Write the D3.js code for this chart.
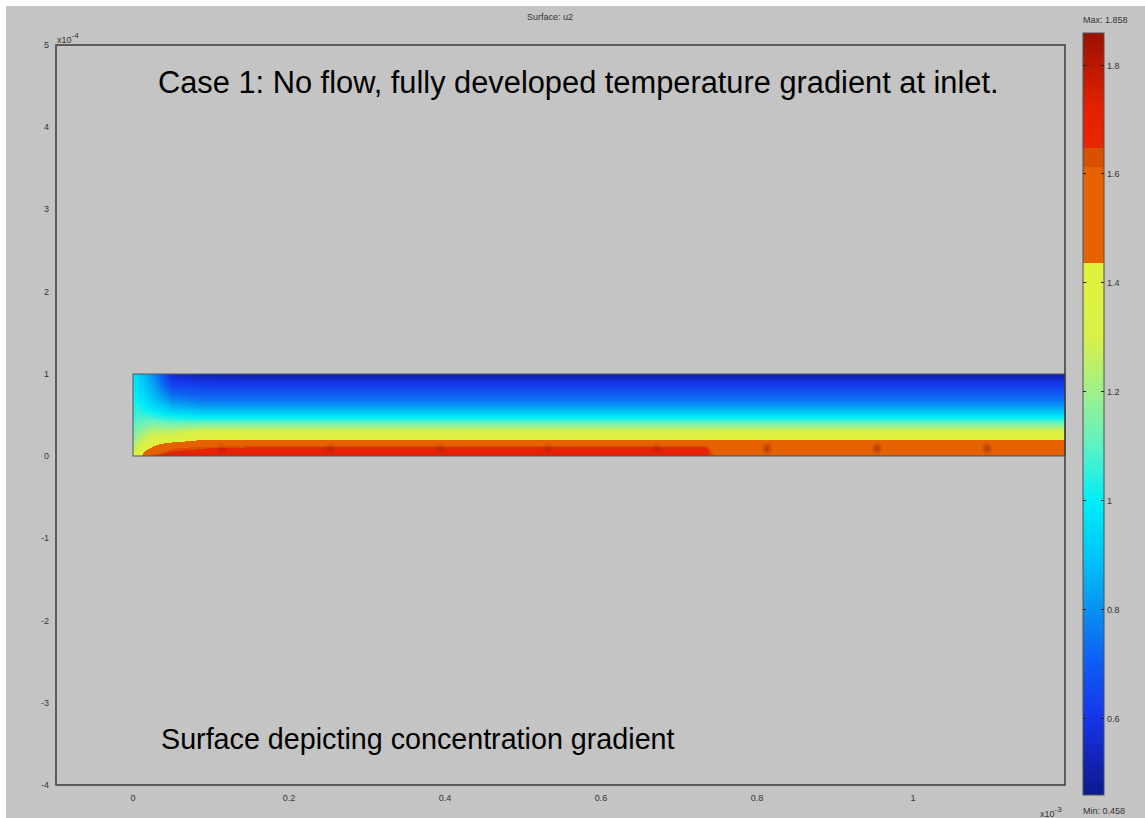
<!DOCTYPE html>
<html>
<head>
<meta charset="utf-8">
<script src="https://cdn.jsdelivr.net/npm/d3@7"></script>
<style>
  html, body { margin: 0; padding: 0; background: #fff; }
  svg { display: block; }
  .small { font-family: "Liberation Sans", Arial, sans-serif; font-size: 9px; fill: #333; }
  .big { font-family: "Liberation Sans", Arial, sans-serif; fill: #000; }
</style>
</head>
<body>
<svg id="mysvg" width="1145" height="818"></svg>
<script>
// axis ticks
const xTicks = [0, 0.2, 0.4, 0.6, 0.8, 1];
const yTicks = [5, 4, 3, 2, 1, 0, -1, -2, -3, -4];
const barTicks = [0.6, 0.8, 1, 1.2, 1.4, 1.6, 1.8];
const uMin = 0.458, uMax = 1.858;

// surface u2 sampled on a grid: x in 1e-3, y in 1e-4
const gridX = [0, 0.01, 0.025, 0.05, 0.09, 0.15, 0.735, 0.745, 1.2];
const gridY = [0, 0.1, 0.2, 0.3, 0.4, 0.5, 0.6, 0.7, 0.8, 0.9, 1.0];
// one column of values per gridX, bottom (y=0) to top (y=1)
const u2_x0000 = [1.30, 1.24, 1.18, 1.13, 1.09, 1.06, 1.04, 1.02, 1.00, 0.99, 0.98];
const u2_x0010 = [1.42, 1.33, 1.25, 1.18, 1.12, 1.06, 1.02, 0.98, 0.95, 0.92, 0.90];
const u2_x0025 = [1.66, 1.45, 1.33, 1.24, 1.14, 1.04, 0.96, 0.90, 0.86, 0.83, 0.80];
const u2_x0050 = [1.72, 1.60, 1.35, 1.25, 1.12, 0.98, 0.86, 0.77, 0.69, 0.62, 0.55];
const u2_x0090 = [1.72, 1.64, 1.43, 1.31, 1.12, 0.95, 0.82, 0.73, 0.66, 0.59, 0.50];
const u2_x0150 = [1.72, 1.66, 1.42, 1.31, 1.12, 0.95, 0.82, 0.73, 0.66, 0.59, 0.49];
const u2_x0735 = [1.72, 1.66, 1.42, 1.31, 1.12, 0.95, 0.82, 0.73, 0.66, 0.59, 0.49];
const u2_x0745 = [1.62, 1.55, 1.43, 1.31, 1.12, 0.95, 0.82, 0.73, 0.66, 0.59, 0.49];
const u2_x1200 = [1.62, 1.55, 1.43, 1.31, 1.12, 0.95, 0.82, 0.73, 0.66, 0.59, 0.49];
const u2Columns = [u2_x0000, u2_x0010, u2_x0025, u2_x0050, u2_x0090, u2_x0150, u2_x0735, u2_x0745, u2_x1200];

// mesh nodes on the lower wall that show as small dark spots
const meshSpotsX = [0.114, 0.253, 0.394, 0.532, 0.672, 0.813, 0.954, 1.095];
const meshSpotsStrength = [0.25, 0.25, 0.25, 0.25, 0.25, 0.45, 0.45, 0.45];

// colour table as seen on the colour bar
const cmapValues = [0.458, 0.52, 0.6, 0.7, 0.8, 0.9, 1.0, 1.1, 1.2, 1.3, 1.435,
                    1.4351, 1.612, 1.6121, 1.647, 1.6471, 1.72, 1.8, 1.858];
const cmapColors = ["#0b1a8c", "#1224b4", "#1535ea", "#0f5cf2", "#0892f2", "#00c8f6", "#00eef6",
                    "#5ef2c4", "#a0f08a", "#d8f048", "#e0f23c",
                    "#e66200", "#e66200", "#d65200", "#d65200", "#e82600", "#e42000", "#b81800", "#9a1000"];

const svg = d3.select("#mysvg");
const plot = { left: 56, top: 45, right: 1065, bottom: 785 };

const x = d3.scaleLinear().domain([-0.0987, 1.195]).range([plot.left, plot.right]);
const y = d3.scaleLinear().domain([-4, 5]).range([plot.bottom, plot.top]);
const color = d3.scaleLinear().domain(cmapValues).range(cmapColors).interpolate(d3.interpolateRgb).clamp(true);

// background
svg.append("rect").attr("width", 1145).attr("height", 818).attr("fill", "#fff");
svg.append("rect").attr("x", 6).attr("y", 6).attr("width", 1139).attr("height", 812).attr("fill", "#c4c4c4");

// bilinear lookup in the grid
function u2At(xv, yv) {
    let i = Math.min(Math.max(d3.bisectRight(gridX, xv) - 1, 0), gridX.length - 2);
    let j = Math.min(Math.max(d3.bisectRight(gridY, yv) - 1, 0), gridY.length - 2);
    let tx = Math.min(Math.max((xv - gridX[i]) / (gridX[i + 1] - gridX[i]), 0), 1);
    let ty = Math.min(Math.max((yv - gridY[j]) / (gridY[j + 1] - gridY[j]), 0), 1);
    let a = u2Columns[i][j], b = u2Columns[i + 1][j];
    let c = u2Columns[i][j + 1], d = u2Columns[i + 1][j + 1];
    return (a * (1 - tx) + b * tx) * (1 - ty) + (c * (1 - tx) + d * tx) * ty;
}

// surface image
const x0 = Math.round(x(0)), x1 = Math.round(Math.min(x(1.2), plot.right));
const y0 = Math.round(y(1)), y1 = Math.round(y(0));
const cw = x1 - x0, ch = y1 - y0;
const canvas = document.createElement("canvas");
canvas.width = cw; canvas.height = ch;
const ctx = canvas.getContext("2d");
const img = ctx.createImageData(cw, ch);
for (let py = 0; py < ch; py++) {
    const yv = y.invert(y0 + py + 0.5);
    for (let px = 0; px < cw; px++) {
        const xv = x.invert(x0 + px + 0.5);
        const c = d3.rgb(color(u2At(xv, yv)));
        const k = (py * cw + px) * 4;
        img.data[k] = c.r; img.data[k + 1] = c.g; img.data[k + 2] = c.b; img.data[k + 3] = 255;
    }
}
ctx.putImageData(img, 0, 0);
svg.append("image")
    .attr("x", x0).attr("y", y0)
    .attr("width", cw).attr("height", ch)
    .attr("preserveAspectRatio", "none")
    .attr("href", canvas.toDataURL());

svg.append("defs").append("radialGradient").attr("id", "spot")
    .selectAll("stop")
    .data([0, 1])
    .join("stop")
    .attr("offset", d => d)
    .attr("stop-color", "#701000")
    .attr("stop-opacity", d => 1 - d);

svg.append("g").selectAll("ellipse")
    .data(meshSpotsX)
    .join("ellipse")
    .attr("cx", d => x(d))
    .attr("cy", y(0.09))
    .attr("rx", 6)
    .attr("ry", 7)
    .attr("fill", "url(#spot)")
    .attr("opacity", (d, i) => meshSpotsStrength[i]);

svg.append("rect")
    .attr("x", x0).attr("y", y0).attr("width", cw).attr("height", ch)
    .attr("fill", "none").attr("stroke", "#4a5a66").attr("stroke-width", 1);

// frame
svg.append("rect")
    .attr("x", plot.left).attr("y", plot.top)
    .attr("width", plot.right - plot.left).attr("height", plot.bottom - plot.top)
    .attr("fill", "none").attr("stroke", "#3a3a3a").attr("stroke-width", 1.5);

// tick labels
svg.append("g").selectAll("text")
    .data(yTicks)
    .join("text")
    .attr("class", "small")
    .attr("x", 49)
    .attr("y", d => y(d) + 3)
    .attr("text-anchor", "end")
    .text(d => d);

svg.append("g").selectAll("text")
    .data(xTicks)
    .join("text")
    .attr("class", "small")
    .attr("x", d => x(d))
    .attr("y", 801)
    .attr("text-anchor", "middle")
    .text(d => d);

const ex4 = svg.append("text").attr("class", "small").attr("x", 57).attr("y", 43);
ex4.append("tspan").text("x10");
ex4.append("tspan").attr("dy", -5).attr("font-size", "8px").text("-4");

const ex3 = svg.append("text").attr("class", "small").attr("x", 1040).attr("y", 817);
ex3.append("tspan").text("x10");
ex3.append("tspan").attr("dy", -5).attr("font-size", "8px").text("-3");

svg.append("text").attr("class", "small")
    .attr("x", 550).attr("y", 20).attr("text-anchor", "middle")
    .text("Surface: u2");

// annotations
svg.append("text").attr("class", "big")
    .attr("x", 158).attr("y", 93)
    .attr("font-size", "30.8px")
    .text("Case 1: No flow, fully developed temperature gradient at inlet.");

svg.append("text").attr("class", "big")
    .attr("x", 161).attr("y", 749)
    .attr("font-size", "28.7px")
    .text("Surface depicting concentration gradient");

// colour bar
const bar = { left: 1083, right: 1104, top: 33, bottom: 795 };
const cb = d3.scaleLinear().domain([uMin, uMax]).range([bar.bottom, bar.top]);

const grad = svg.select("defs").append("linearGradient")
    .attr("id", "cbar")
    .attr("x1", 0).attr("y1", 1).attr("x2", 0).attr("y2", 0);
grad.selectAll("stop")
    .data(cmapValues)
    .join("stop")
    .attr("offset", d => (d - uMin) / (uMax - uMin))
    .attr("stop-color", (d, i) => cmapColors[i]);

svg.append("rect")
    .attr("x", bar.left).attr("y", bar.top)
    .attr("width", bar.right - bar.left).attr("height", bar.bottom - bar.top)
    .attr("fill", "url(#cbar)")
    .attr("stroke", "#505050").attr("stroke-width", 1);

const bt = svg.append("g").selectAll("g")
    .data(barTicks)
    .join("g")
    .attr("transform", d => `translate(0,${Math.round(cb(d)) + 0.5})`);
bt.append("line").attr("x1", bar.left).attr("x2", bar.left + 3).attr("stroke", "#222");
bt.append("line").attr("x1", bar.right - 3).attr("x2", bar.right).attr("stroke", "#222");
bt.append("text").attr("class", "small")
    .attr("x", bar.right + 3).attr("y", 3)
    .text(d => d);

svg.append("text").attr("class", "small")
    .attr("x", 1083).attr("y", 23)
    .text("Max: " + uMax);
svg.append("text").attr("class", "small")
    .attr("x", 1083).attr("y", 814)
    .text("Min: " + uMin);
</script>
</body>
</html>
